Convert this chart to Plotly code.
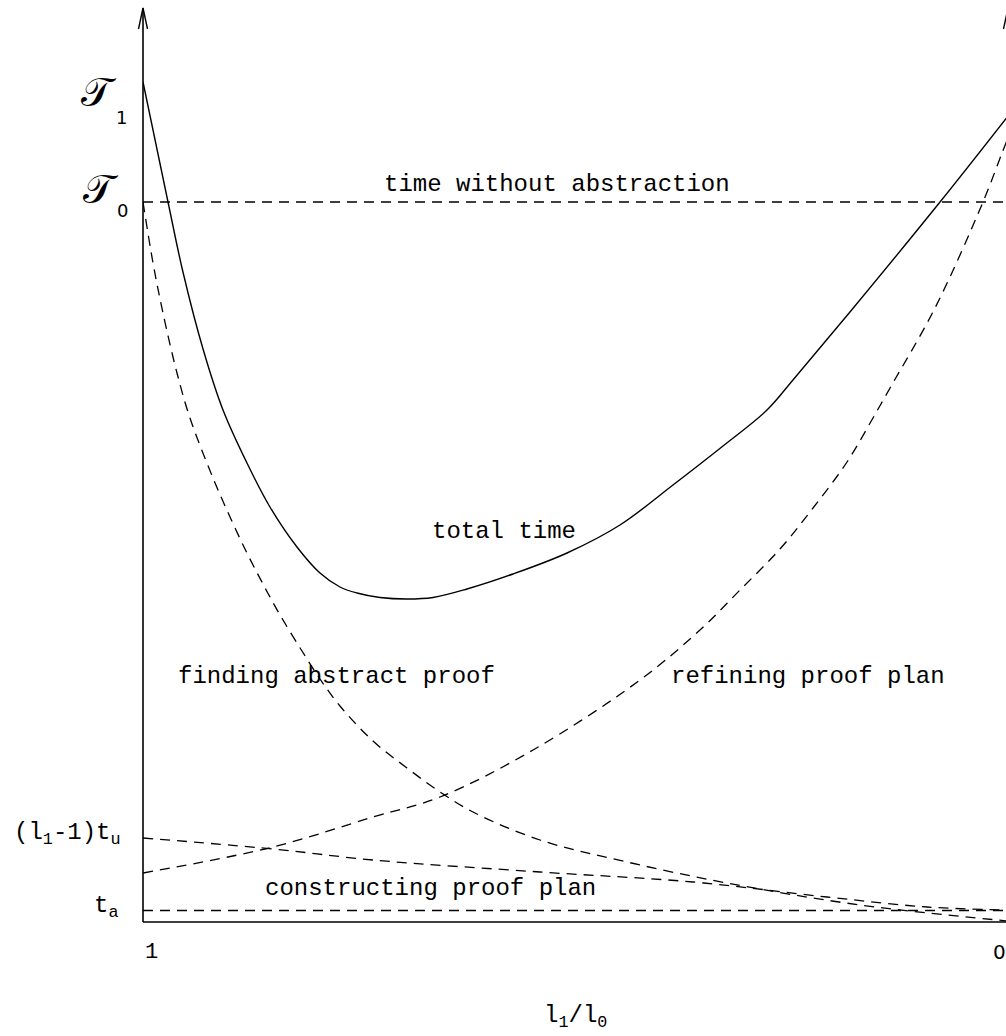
import plotly.graph_objects as go

# ---------------- data (x = l1/l0, 1 at left .. 0 at right; y = time, arbitrary units)
T1 = 84.0          # time with abstraction at l1/l0 = 1
T0 = 72.0          # time without abstraction
TU = 8.4           # (l1-1) t_u
TA = 1.15          # t_a

total_x = [1.000, 0.9711, 0.9538, 0.9306, 0.9075, 0.8798, 0.8532, 0.8220, 0.7954,
           0.7723, 0.7526, 0.7260, 0.6948, 0.6647, 0.6254, 0.5723, 0.5098, 0.4486,
           0.3873, 0.3295, 0.2786, 0.2486, 0.1827, 0.0786, 0.0]
total_y = [84.0, 72.0, 65.0, 57.3, 51.2, 45.9, 41.5, 37.5, 34.9,
           33.5, 32.9, 32.45, 32.3, 32.45, 33.3, 34.8, 36.9, 39.7,
           43.7, 47.6, 51.2, 54.2, 61.0, 72.0, 80.6]

find_x = [1.000, 0.9884, 0.9769, 0.9607, 0.9457, 0.9191, 0.8994, 0.8798,
          0.8613, 0.8416, 0.8162, 0.7954, 0.7723, 0.7341, 0.6948, 0.6566, 0.6185,
          0.5410, 0.4405, 0.3249, 0.1711, 0.0]
find_y = [72.0, 65.9, 60.9, 54.9, 50.4, 44.4, 40.5, 36.9,
          33.8, 30.7, 27.1, 24.3, 21.6, 18.1, 15.4, 13.0, 11.0,
          8.2, 6.0, 3.9, 1.7, 0.1]

refine_x = [1.000, 0.8497, 0.7341, 0.6566, 0.5491, 0.4254, 0.3561, 0.3098, 0.2636,
            0.2254, 0.1861, 0.1561, 0.1364, 0.0844, 0.0289, 0.0069, 0.0]
refine_y = [4.9, 7.5, 10.5, 12.5, 17.2, 24.2, 29.2, 33.2, 37.3,
            41.4, 46.0, 50.4, 53.4, 61.4, 72.0, 76.9, 78.4]

construct_x = [1.000, 0.8497, 0.7341, 0.5410, 0.3642, 0.2092, 0.0936, 0.0]
construct_y = [8.4, 7.3, 6.2, 5.0, 4.0, 2.5, 1.5, 1.2]

curve_labels = ["time without abstraction", "total time", "finding abstract proof",
                "refining proof plan", "constructing proof plan"]
curve_label_x = [0.521, 0.583, 0.776, 0.231, 0.668]
curve_label_y = [73.8, 39.1, 24.6, 24.6, 3.4]

x_tick_vals = [1, 0]
x_tick_text = ["1", "0"]
x_title = "l<sub>1</sub>/l<sub>0</sub>"

MONO = "Liberation Mono, Courier New, monospace"
SANS = "DejaVu Sans, sans-serif"
DASH = "10px,7px"

fig = go.Figure()

def add_line(x, y, dash=None, width=1.3):
    fig.add_trace(go.Scatter(
        x=x, y=y, mode="lines",
        line=dict(color="black", width=width, dash=dash, shape="spline", smoothing=1.0),
        hoverinfo="skip", showlegend=False))

add_line([1, 0], [T0, T0], DASH)
add_line([1, 0], [TA, TA], DASH)
add_line(find_x, find_y, DASH)
add_line(refine_x, refine_y, DASH)
add_line(construct_x, construct_y, DASH)
add_line(total_x, total_y, None, 1.4)

# plot-area geometry helpers (pixels -> paper fractions)
W_PLOT, H_PLOT = 863.0, 922.0
def px_x(p):
    return (p - 143.0) / W_PLOT
def px_y(p):
    return (922.0 - p) / H_PLOT

ann = []
for t, x, y in zip(curve_labels, curve_label_x, curve_label_y):
    ann.append(dict(x=x, y=y, xref="x", yref="y", text=t, showarrow=False,
                    xanchor="center", yanchor="middle",
                    font=dict(family=MONO, size=24, color="black")))

# x tick labels (1 at the left end, 0 at the right end of the axis)
ann.append(dict(x=0, y=0, xref="paper", yref="y", text=x_tick_text[0],
                showarrow=False, xanchor="left", yanchor="top", yshift=-16,
                font=dict(family=MONO, size=22, color="black")))
ann.append(dict(x=px_x(1008), y=0, xref="paper", yref="y", text=x_tick_text[1],
                showarrow=False, xanchor="right", yanchor="top", yshift=-16,
                font=dict(family=SANS, size=20, color="black")))
# x axis title
ann.append(dict(x=0.5, y=0, xref="x", yref="y", text=x_title, showarrow=False,
                xanchor="center", yanchor="middle", yshift=-95,
                font=dict(family=MONO, size=24, color="black")))

# y labels
SCRIPT = "DejaVu Serif, DejaVu Sans, serif"
ann.append(dict(x=0, y=T1, xref="paper", yref="y", text="𝒯", showarrow=False,
                xanchor="center", yanchor="middle", xshift=-44, yshift=-10,
                font=dict(family=SCRIPT, size=40, color="black")))
ann.append(dict(x=0, y=T1, xref="paper", yref="y", text="1", showarrow=False,
                xanchor="center", yanchor="middle", xshift=-22, yshift=-35,
                font=dict(family=SANS, size=18, color="black")))
ann.append(dict(x=0, y=T0, xref="paper", yref="y", text="𝒯", showarrow=False,
                xanchor="center", yanchor="middle", xshift=-42, yshift=13,
                font=dict(family=SCRIPT, size=40, color="black")))
ann.append(dict(x=0, y=T0, xref="paper", yref="y", text="0", showarrow=False,
                xanchor="center", yanchor="middle", xshift=-21, yshift=-8,
                font=dict(family=SANS, size=18, color="black")))
ann.append(dict(x=0, y=TU, xref="paper", yref="y", text="(l<sub>1</sub>-1)t<sub>u</sub>",
                showarrow=False, xanchor="right", yanchor="middle", xshift=-20, yshift=4,
                font=dict(family=MONO, size=24, color="black")))
ann.append(dict(x=0, y=TA, xref="paper", yref="y", text="t<sub>a</sub>",
                showarrow=False, xanchor="right", yanchor="middle", xshift=-23, yshift=4,
                font=dict(family=MONO, size=24, color="black")))

# axes (drawn as lines with open arrowheads)
shapes = [
    dict(type="line", xref="paper", yref="paper", x0=0, y0=0, x1=0, y1=px_y(8),
         line=dict(color="black", width=1.6)),
    dict(type="path", xref="paper", yref="paper",
         path=f"M {px_x(138.5)} {px_y(29)} L 0 {px_y(8)} L {px_x(147.5)} {px_y(29)}",
         line=dict(color="black", width=1.4)),
    dict(type="line", xref="paper", yref="paper", x0=0, y0=0, x1=px_x(1030), y1=0,
         line=dict(color="black", width=1.6)),
    dict(type="path", xref="paper", yref="paper",
         path=f"M {px_x(1003.5)} {px_y(29)} L {px_x(1008)} {px_y(8)}",
         line=dict(color="black", width=1.4)),
]

fig.update_layout(
    width=1006, height=1036, autosize=False,
    margin=dict(l=143, r=0, t=0, b=114, pad=0),
    paper_bgcolor="white", plot_bgcolor="white",
    showlegend=False,
    xaxis=dict(range=[1, 1 - 863 / 865], visible=False, fixedrange=True),
    yaxis=dict(range=[0, 92.2], visible=False, fixedrange=True),
    annotations=ann,
    shapes=shapes,
)

fig.write_html(
    "out.html",
    config={"displayModeBar": False, "responsive": False},
    post_script="document.body.style.margin='0px';document.body.style.overflow='hidden';",
)
